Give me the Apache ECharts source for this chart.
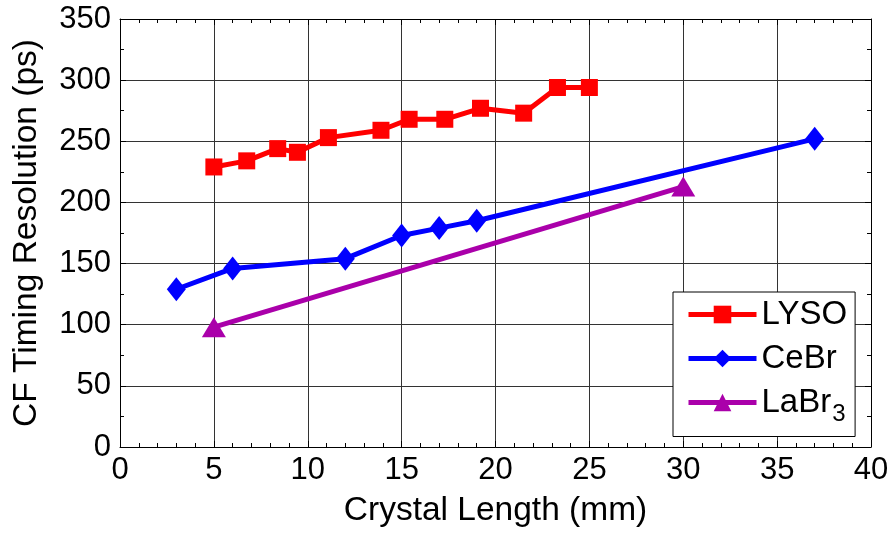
<!DOCTYPE html>
<html>
<head>
<meta charset="utf-8">
<script src="https://cdn.jsdelivr.net/npm/echarts@6/dist/echarts.min.js"></script>
<style>html,body{margin:0;padding:0;background:#fff}#c{width:895px;height:535px}</style>
</head>
<body>
<div id="c"></div>
<script>
var lysoX = [5, 6.75, 8.4, 9.45, 11.1, 13.9, 15.4, 17.3, 19.2, 21.5, 23.3, 25];
var lysoY = [229, 234, 244, 241, 253, 259, 268, 268, 277, 273, 294, 294];
var cebrX = [3, 6, 12, 15, 17, 19, 37];
var cebrY = [129, 146, 154, 173, 179, 185, 252];
var labrX = [5, 30];
var labrY = [98, 213];
var xTicks = [0, 5, 10, 15, 20, 25, 30, 35, 40];
var yTicks = [0, 50, 100, 150, 200, 250, 300, 350];

function pairs(xs, ys) { return xs.map(function (x, i) { return [x, ys[i]]; }); }

var font = 'Liberation Sans, Arial, sans-serif';
var chart = echarts.init(document.getElementById('c'), null, {renderer: 'canvas'});

var tickCommon = {show: true, inside: true, length: 6, lineStyle: {color: '#000', width: 1}};
var minorCommon = {show: true, splitNumber: 5, length: 4, lineStyle: {color: '#000', width: 1}};

chart.setOption({
  animation: false,
  backgroundColor: '#fff',
  grid: {left: 120, right: 24, top: 19, bottom: 88, show: false},
  legend: {
    left: 673, top: 292, orient: 'vertical',
    backgroundColor: '#fff', borderColor: '#000', borderWidth: 1,
    padding: [6, 8, 10, 13], itemGap: 11,
    itemWidth: 68, itemHeight: 22,
    lineStyle: {width: 5},
    textStyle: {fontFamily: font, fontSize: 33, color: '#000',
      rich: {n: {fontFamily: font, fontSize: 33, color: '#000'},
             s: {fontFamily: font, fontSize: 24, color: '#000', verticalAlign: 'bottom', padding: [24, 0, 0, 1]}}},
    formatter: function (name) {
      if (name === 'LaBr3') return '{n|LaBr}{s|3}';
      return '{n|' + name + '}';
    },
    data: ['LYSO', 'CeBr', 'LaBr3']
  },
  xAxis: [{
    type: 'value', min: xTicks[0], max: xTicks[xTicks.length - 1], interval: 5,
    name: 'Crystal Length (mm)', nameLocation: 'middle', nameGap: 47,
    nameTextStyle: {fontFamily: font, fontSize: 33.5, color: '#000'},
    axisLine: {show: true, onZero: false, lineStyle: {color: '#000', width: 1}},
    axisTick: tickCommon, minorTick: minorCommon,
    axisLabel: {fontFamily: font, fontSize: 31, color: '#000', margin: 8},
    splitLine: {show: true, lineStyle: {color: '#333', width: 1}}
  }, {
    type: 'value', position: 'top', min: xTicks[0], max: xTicks[xTicks.length - 1], interval: 5,
    axisLine: {show: true, onZero: false, lineStyle: {color: '#000', width: 1}},
    axisTick: tickCommon, minorTick: minorCommon,
    axisLabel: {show: false}, splitLine: {show: false}
  }],
  yAxis: [{
    type: 'value', min: yTicks[0], max: yTicks[yTicks.length - 1], interval: 50,
    name: 'CF Timing Resolution (ps)', nameLocation: 'middle', nameGap: 76,
    nameTextStyle: {fontFamily: font, fontSize: 33.5, color: '#000'},
    axisLine: {show: true, onZero: false, lineStyle: {color: '#000', width: 1}},
    axisTick: tickCommon, minorTick: {show: true, splitNumber: 2, length: 4, lineStyle: {color: '#000'}},
    axisLabel: {fontFamily: font, fontSize: 31, color: '#000', margin: 9},
    splitLine: {show: true, lineStyle: {color: '#333', width: 1}}
  }, {
    type: 'value', position: 'right', min: yTicks[0], max: yTicks[yTicks.length - 1], interval: 50,
    axisLine: {show: true, onZero: false, lineStyle: {color: '#000', width: 1}},
    axisTick: tickCommon, minorTick: {show: true, splitNumber: 2, length: 4, lineStyle: {color: '#000'}},
    axisLabel: {show: false}, splitLine: {show: false}
  }],
  series: [{
    name: 'LYSO', type: 'line', data: pairs(lysoX, lysoY),
    symbol: 'rect', symbolSize: 17,
    lineStyle: {color: '#ff0000', width: 5}, itemStyle: {color: '#ff0000'}, color: '#ff0000', z: 5
  }, {
    name: 'CeBr', type: 'line', data: pairs(cebrX, cebrY),
    symbol: 'diamond', symbolSize: [19, 24],
    lineStyle: {color: '#0000ff', width: 5}, itemStyle: {color: '#0000ff'}, color: '#0000ff', z: 4
  }, {
    name: 'LaBr3', type: 'line', data: pairs(labrX, labrY),
    symbol: 'triangle', symbolSize: [24, 20],
    lineStyle: {color: '#aa00aa', width: 5}, itemStyle: {color: '#aa00aa'}, color: '#aa00aa', z: 3
  }]
});
</script>
</body>
</html>
